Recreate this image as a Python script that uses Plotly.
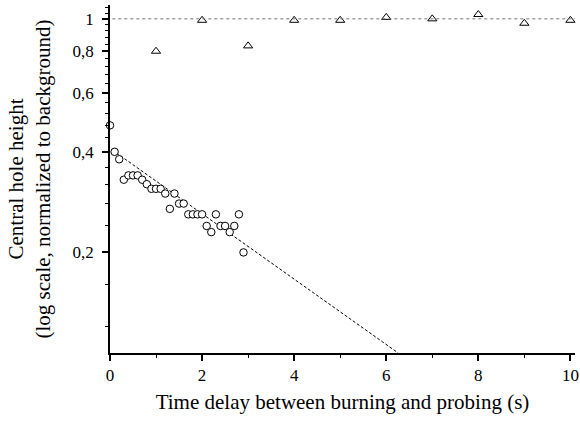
import plotly.graph_objects as go

# Circles: central hole height vs delay (log scale)
circ_x = [0.0, 0.1, 0.2, 0.3, 0.4, 0.5, 0.6, 0.7, 0.8, 0.9, 1.0, 1.1, 1.2, 1.3, 1.4,
          1.5, 1.6, 1.7, 1.8, 1.9, 2.0, 2.1, 2.2, 2.3, 2.4, 2.5, 2.6, 2.7, 2.8, 2.9]
circ_y = [0.48, 0.40, 0.38, 0.33, 0.34, 0.34, 0.34, 0.33, 0.32, 0.31, 0.31, 0.31, 0.30, 0.27, 0.30,
          0.28, 0.28, 0.26, 0.26, 0.26, 0.26, 0.24, 0.23, 0.26, 0.24, 0.24, 0.23, 0.24, 0.26, 0.20]

# Triangles: normalized reference
tri_x = [1, 2, 3, 4, 5, 6, 7, 8, 9, 10]
tri_y = [0.80, 0.99, 0.83, 0.99, 0.99, 1.01, 1.00, 1.03, 0.97, 0.99]

# Exponential fit line (endpoints, straight on log axis)
fit_x = [0.05, 6.26]
fit_y = [0.405, 0.10]

ref_level = 1.0

y_tickvals = [0.2, 0.4, 0.6, 0.8, 1.0]
y_ticktext = ["0,2", "0,4", "0,6", "0,8", "1"]
y_minorvals = [0.12, 0.16, 0.24, 0.28, 0.32, 0.36, 0.44, 0.48, 0.52, 0.56,
               0.64, 0.68, 0.72, 0.76, 0.84, 0.88, 0.92, 0.96, 1.04, 1.08]
x_tickvals = [0, 2, 4, 6, 8, 10]
x_ticktext = ["0", "2", "4", "6", "8", "10"]
x_minorvals = [1, 3, 5, 7, 9]

FONT = "Liberation Serif"

fig = go.Figure()
fig.add_trace(go.Scatter(x=fit_x, y=fit_y, mode="lines",
                         line=dict(color="black", width=1, dash="3px,2px"),
                         hoverinfo="skip", showlegend=False))
fig.add_trace(go.Scatter(x=circ_x, y=circ_y, mode="markers", cliponaxis=False,
                         marker=dict(symbol="circle", size=7.5, color="white",
                                     line=dict(color="black", width=1)),
                         showlegend=False))
fig.add_trace(go.Scatter(x=tri_x, y=tri_y, mode="markers", cliponaxis=False,
                         marker=dict(symbol="triangle-up", size=8, color="white",
                                     line=dict(color="black", width=1)),
                         showlegend=False))

fig.add_shape(type="line", xref="paper", x0=0.005, x1=1, yref="y", y0=ref_level, y1=ref_level,
              line=dict(color="#777777", width=1, dash="dot"))

fig.update_layout(
    width=580, height=421,
    margin=dict(l=110, r=5, t=5, b=68, autoexpand=False),
    paper_bgcolor="white", plot_bgcolor="white",
    font=dict(family=FONT, color="black", size=17),
    xaxis=dict(range=[0, 10.1], showgrid=False, zeroline=False, automargin=False,
               showline=True, linecolor="black", linewidth=1.5,
               ticks="outside", ticklen=6, tickwidth=1.5, tickcolor="black",
               tickmode="array", tickvals=x_tickvals, ticktext=x_ticktext,
               tickfont=dict(family=FONT, size=17),
               minor=dict(tickmode="array", tickvals=x_minorvals, ticks="outside",
                          ticklen=3, tickwidth=1.2, tickcolor="black", showgrid=False),
               title=dict(text="Time delay between burning and probing (s)",
                          font=dict(family=FONT, size=21), standoff=10)),
    yaxis=dict(type="log", range=[-1, 0.0414], showgrid=False, zeroline=False, automargin=False,
               showline=True, linecolor="black", linewidth=1.5,
               ticks="outside", ticklen=6, tickwidth=1.5, tickcolor="black",
               tickmode="array", tickvals=y_tickvals, ticktext=y_ticktext,
               tickfont=dict(family=FONT, size=17), ticklabelstandoff=5,
               minor=dict(tickmode="array", tickvals=y_minorvals, ticks="outside",
                          ticklen=3.5, tickwidth=1.2, tickcolor="black", showgrid=False),
               title=dict(text="Central hole height<br>(log scale, normalized to background)",
                          font=dict(family=FONT, size=21), standoff=16)),
)

fig.write_html("out.html", config={"displayModeBar": False},
               post_script="document.body.style.margin='0';document.body.style.padding='0';")
